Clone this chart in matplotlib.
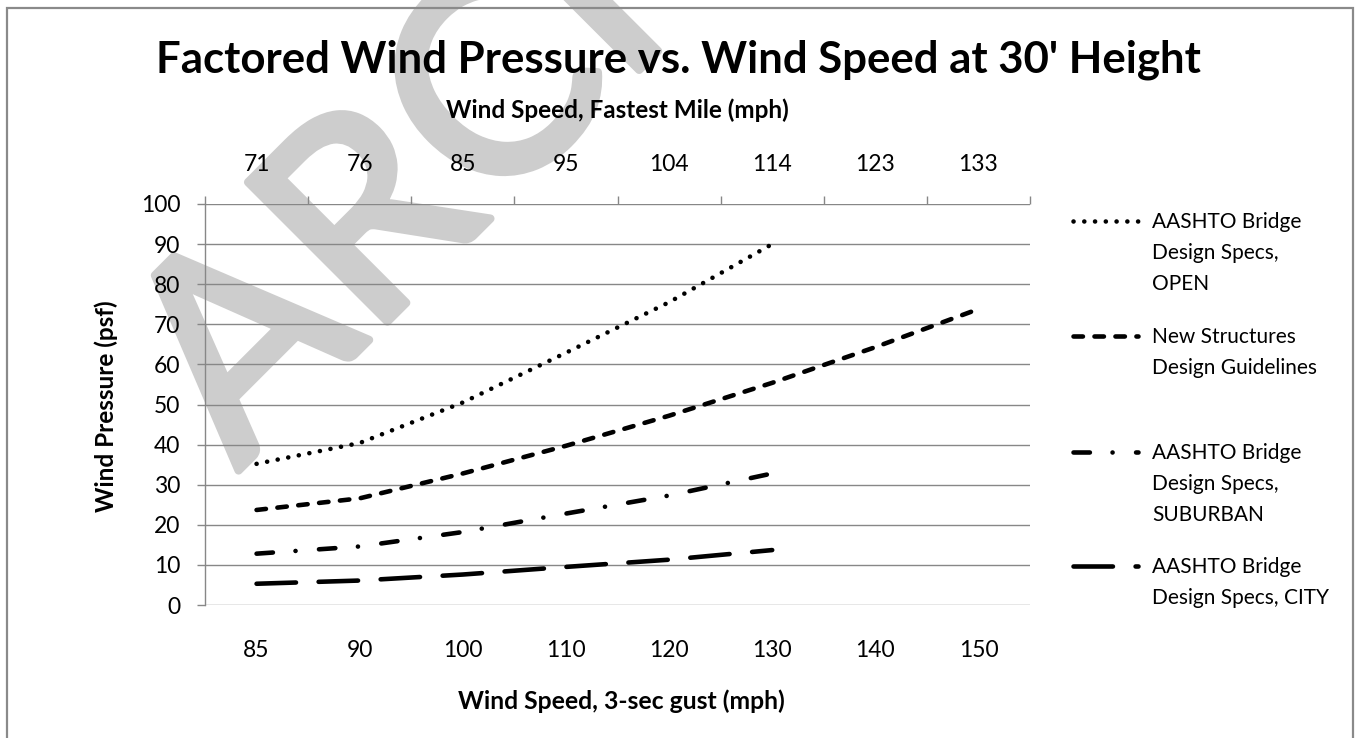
import matplotlib
matplotlib.use("Agg")
import matplotlib.pyplot as plt
from matplotlib.lines import Line2D
from matplotlib.patches import Rectangle
import matplotlib.patheffects as pe

plt.rcParams['font.family'] = ['Lato', 'DejaVu Sans']
plt.rcParams['lines.scale_dashes'] = False

# ---------------- data ----------------
gust_speeds = ['85', '90', '100', '110', '120', '130', '140', '150']
fastest_mile = ['71', '76', '85', '95', '104', '114', '123', '133']

open_vals = [35.2, 40.4, 50.5, 62.9, 75.5, 90.0]
new_vals = [23.7, 26.6, 32.8, 39.7, 47.2, 55.4, 64.3, 73.8]
suburban_vals = [12.8, 14.6, 18.2, 22.8, 27.3, 32.8]
city_vals = [5.3, 6.1, 7.6, 9.5, 11.3, 13.7]

series_names = ['AASHTO Bridge\nDesign Specs,\nOPEN',
                'New Structures\nDesign Guidelines',
                'AASHTO Bridge\nDesign Specs,\nSUBURBAN',
                'AASHTO Bridge\nDesign Specs, CITY']
series_vals = [open_vals, new_vals, suburban_vals, city_vals]

title = "Factored Wind Pressure vs. Wind Speed at 30' Height"
ylabel = 'Wind Pressure (psf)'
xlabel_bottom = 'Wind Speed, 3-sec gust (mph)'
xlabel_top = 'Wind Speed, Fastest Mile (mph)'
watermark = 'ARCHIVED'

# ---------------- styles ----------------
LW = 3.3
dashes = [(0, (0.05, 7.7)),              # round dot
          (0, (6.8, 8.3)),               # dash
          (0, (11.8, 16.3, 0.05, 16.9)), # long dash dot
          (0, (28.4, 16.3))]             # long dash

W, H = 1356, 738
fig = plt.figure(figsize=(W / 100, H / 100), dpi=100)
fig.patch.set_facecolor('white')

def fx(px):
    return px / W

def fy(py):
    return 1 - py / H

GRID = '#878787'
WM = '#cdcdcd'

# watermark
fig.text(fx(238), fy(471), watermark, fontsize=198, color=WM,
         rotation=45, rotation_mode='anchor', ha='left', va='baseline',
         zorder=-2,
         path_effects=[pe.withStroke(linewidth=6, foreground=WM)])

# outer border
fig.add_artist(Rectangle((fx(7), fy(745)), fx(1353) - fx(7), fy(8) - fy(745),
                         transform=fig.transFigure, fill=False,
                         edgecolor='#8a8a8a', linewidth=1.6, zorder=-1))

ax = fig.add_axes([fx(205), fy(605), fx(1030) - fx(205), fy(204) - fy(605)])
ax.set_facecolor('none')

x = list(range(len(gust_speeds)))
for vals, ls in zip(series_vals, dashes):
    ax.plot(x[:len(vals)], vals, color='black', lw=LW, linestyle=ls,
            dash_capstyle='round', solid_capstyle='round', zorder=3)

ax.set_xlim(-0.5, len(gust_speeds) - 0.5)
ax.set_ylim(0, 100)
ax.set_yticks(range(0, 101, 10))
ax.yaxis.grid(True, color=GRID, lw=1.0)
ax.set_axisbelow(True)
ax.tick_params(axis='y', direction='out', length=5.8, width=1.0, color=GRID,
               labelsize=16.5, pad=12)
ax.set_xticks(x)
ax.set_xticklabels(gust_speeds)
ax.tick_params(axis='x', length=0, labelsize=16.5, pad=25)
for s in ['top', 'right', 'bottom']:
    ax.spines[s].set_visible(False)
ax.spines['left'].set_color(GRID)
ax.spines['left'].set_linewidth(1.0)

# top axis (fastest mile)
top = ax.secondary_xaxis('top')
top.set_xticks([i - 0.5 for i in range(len(gust_speeds) + 1)])
top.set_xticklabels([])
top.set_xticks(x, minor=True)
top.set_xticklabels(fastest_mile, minor=True)
top.tick_params(axis='x', which='major', direction='out', length=5.8, width=1.0, color=GRID)
top.tick_params(axis='x', which='minor', length=0, labelsize=16.5, pad=21)
top.spines['top'].set_visible(False)

# texts
fig.text(0.5, fy(73), title, fontsize=31.5, fontweight='bold', ha='center', va='baseline')
fig.text(fx(617.5), fy(118), xlabel_top, fontsize=17.5, fontweight='bold', ha='center', va='baseline')
fig.text(fx(621), fy(701), xlabel_bottom, fontsize=17.8, fontweight='bold', ha='center', va='center')
fig.text(fx(106), fy(406), ylabel, fontsize=17.5, fontweight='bold', ha='center', va='center',
         rotation=90)

# legend (manual, Excel-like: sample aligned with first text line)
leg_y = [221, 336, 452, 566]
for name, ls, yy in zip(series_names, dashes, leg_y):
    fig.add_artist(Line2D([fx(1073), fx(1138)], [fy(yy), fy(yy)], transform=fig.transFigure,
                          color='black', lw=LW, linestyle=ls, dash_capstyle='round'))
    fig.text(fx(1152), fy(yy - 9), name, fontsize=15, ha='left', va='top', linespacing=1.68)

fig.savefig('out.png', dpi=100)
